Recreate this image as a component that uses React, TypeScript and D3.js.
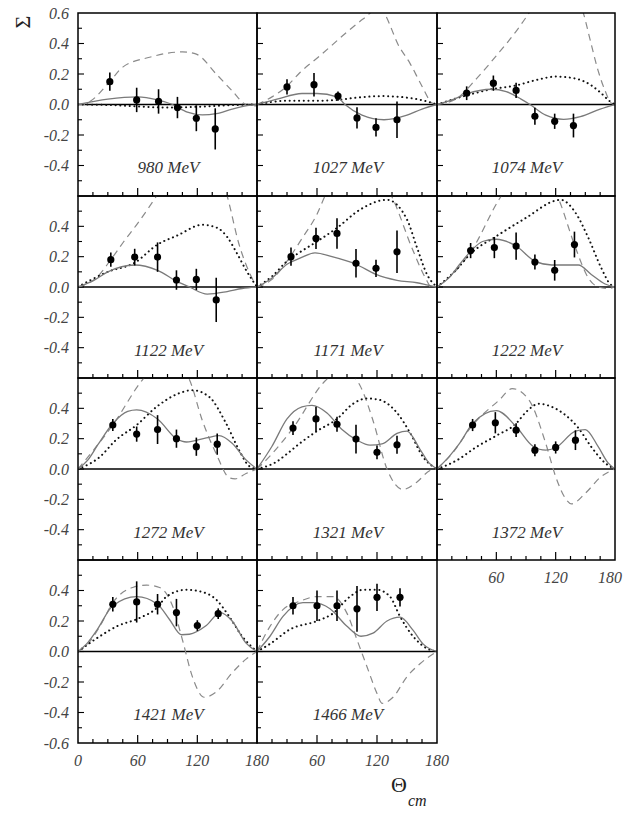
import React from "react";
import * as d3 from "d3";

// beam energies, one panel each (row by row, 3 per row)
const energies = ["980 MeV", "1027 MeV", "1074 MeV", "1122 MeV", "1171 MeV", "1222 MeV",
  "1272 MeV", "1321 MeV", "1372 MeV", "1421 MeV", "1466 MeV"];

// measured points: theta, sigma, error
const pointTheta = [
  [32, 59, 81, 100, 119, 138],
  [30, 57, 81, 100, 119, 140],
  [30, 57, 80, 99, 119, 138],
  [33, 57, 80, 99, 119, 139],
  [34, 59, 80, 99, 119, 140],
  [34, 58, 80, 99, 119, 139],
  [35, 59, 80, 99, 119, 140],
  [36, 59, 80, 99, 120, 140],
  [36, 59, 80, 99, 120, 140],
  [35, 59, 80, 99, 120, 141],
  [36, 60, 80, 100, 120, 143],
];
const pointSigma = [
  [0.15, 0.03, 0.02, -0.02, -0.09, -0.16],
  [0.115, 0.13, 0.055, -0.088, -0.15, -0.10],
  [0.074, 0.14, 0.092, -0.077, -0.11, -0.138],
  [0.18, 0.197, 0.197, 0.046, 0.05, -0.085],
  [0.2, 0.32, 0.353, 0.156, 0.123, 0.232],
  [0.24, 0.26, 0.27, 0.165, 0.11, 0.28],
  [0.29, 0.23, 0.26, 0.20, 0.147, 0.164],
  [0.27, 0.33, 0.295, 0.197, 0.11, 0.16],
  [0.29, 0.305, 0.256, 0.124, 0.142, 0.19],
  [0.31, 0.325, 0.31, 0.255, 0.17, 0.248],
  [0.30, 0.30, 0.30, 0.28, 0.355, 0.355],
];
const pointError = [
  [0.06, 0.08, 0.08, 0.07, 0.085, 0.135],
  [0.05, 0.077, 0.03, 0.07, 0.06, 0.12],
  [0.045, 0.05, 0.05, 0.055, 0.05, 0.078],
  [0.047, 0.055, 0.097, 0.064, 0.07, 0.146],
  [0.06, 0.07, 0.1, 0.094, 0.057, 0.14],
  [0.05, 0.07, 0.09, 0.05, 0.068, 0.085],
  [0.04, 0.05, 0.095, 0.06, 0.06, 0.07],
  [0.045, 0.08, 0.05, 0.095, 0.045, 0.06],
  [0.04, 0.07, 0.045, 0.04, 0.04, 0.065],
  [0.047, 0.135, 0.067, 0.09, 0.035, 0.035],
  [0.057, 0.1, 0.1, 0.15, 0.09, 0.06],
];

// model curves as [theta, sigma]
const solidCurves: [number, number][][] = [
  [[0, 0], [30, 0.035], [60, 0.05], [80, 0.03], [95, 0], [110, -0.05], [125, -0.068], [139, -0.06], [155, -0.03], [170, -0.008], [180, 0]],
  [[0, 0], [20, 0.035], [45, 0.072], [60, 0.072], [80, 0.05], [88, 0], [105, -0.07], [127, -0.1], [150, -0.07], [165, -0.03], [180, 0]],
  [[0, 0], [15, 0.03], [30, 0.07], [55, 0.1], [70, 0.085], [85, 0.035], [94, 0], [110, -0.07], [128, -0.097], [145, -0.08], [165, -0.03], [180, 0]],
  [[0, 0], [15, 0.04], [30, 0.1], [57, 0.145], [80, 0.11], [100, 0.035], [112, 0], [130, -0.047], [150, -0.03], [165, -0.01], [180, 0]],
  [[0, 0], [15, 0.06], [30, 0.15], [43, 0.19], [58, 0.225], [75, 0.2], [99, 0.15], [119, 0.083], [140, 0.044], [160, 0.028], [172, 0.01], [180, 0]],
  [[0, 0], [12, 0.06], [23, 0.15], [34, 0.235], [46, 0.3], [60, 0.315], [80, 0.27], [99, 0.17], [116, 0.145], [143, 0.145], [156, 0.083], [170, 0.02], [180, 0]],
  [[0, 0], [10, 0.06], [20, 0.16], [35, 0.3], [50, 0.38], [59, 0.39], [80, 0.33], [99, 0.2], [109, 0.178], [129, 0.205], [142, 0.22], [155, 0.17], [169, 0.06], [180, 0]],
  [[0, 0], [15, 0.15], [30, 0.33], [45, 0.41], [55, 0.42], [70, 0.37], [85, 0.26], [100, 0.19], [113, 0.157], [125, 0.165], [140, 0.235], [150, 0.25], [163, 0.13], [172, 0.04], [180, 0]],
  [[0, 0], [12, 0.08], [23, 0.17], [36, 0.3], [60, 0.385], [80, 0.28], [97, 0.15], [110, 0.124], [120, 0.14], [140, 0.25], [150, 0.26], [163, 0.147], [173, 0.04], [180, 0]],
  [[0, 0], [10, 0.06], [19, 0.14], [35, 0.3], [59, 0.36], [80, 0.31], [92, 0.21], [104, 0.11], [112, 0.113], [129, 0.17], [143, 0.255], [155, 0.2], [169, 0.055], [180, 0]],
  [[0, 0], [13, 0.1], [26, 0.23], [46, 0.32], [56, 0.32], [73, 0.28], [90, 0.165], [104, 0.1], [116, 0.12], [130, 0.2], [143, 0.225], [156, 0.14], [166, 0.05], [180, 0]],
];
const dottedCurves: [number, number][][] = [
  [[0, 0], [30, -0.003], [60, -0.012], [90, -0.02], [120, -0.015], [150, -0.005], [180, 0]],
  [[0, 0], [30, 0.025], [60, 0.025], [80, 0.03], [100, 0.045], [125, 0.055], [150, 0.045], [170, 0.02], [180, 0]],
  [[0, 0], [30, 0.06], [55, 0.1], [80, 0.125], [100, 0.16], [120, 0.183], [140, 0.17], [155, 0.13], [165, 0.08], [175, 0.02], [180, 0]],
  [[0, 0], [30, 0.1], [57, 0.16], [80, 0.28], [100, 0.34], [125, 0.41], [140, 0.39], [150, 0.33], [160, 0.22], [170, 0.1], [180, 0]],
  [[0, 0], [15, 0.07], [30, 0.17], [43, 0.23], [60, 0.3], [80, 0.39], [103, 0.51], [130, 0.575], [150, 0.445], [160, 0.26], [170, 0.083], [180, 0]],
  [[0, 0], [19, 0.11], [34, 0.22], [60, 0.335], [90, 0.456], [120, 0.57], [125, 0.575], [140, 0.49], [153, 0.325], [166, 0.127], [175, 0.02], [180, 0]],
  [[0, 0], [22, 0.08], [38, 0.19], [59, 0.29], [79, 0.41], [102, 0.5], [115, 0.52], [132, 0.475], [149, 0.3], [162, 0.124], [172, 0.02], [180, 0]],
  [[0, 0], [20, 0.05], [30, 0.1], [43, 0.17], [60, 0.25], [80, 0.33], [96, 0.43], [110, 0.465], [123, 0.455], [140, 0.37], [153, 0.24], [166, 0.08], [180, 0]],
  [[0, 0], [20, 0.057], [40, 0.146], [60, 0.22], [80, 0.3], [90, 0.375], [103, 0.43], [116, 0.41], [130, 0.355], [143, 0.27], [156, 0.146], [170, 0.04], [180, 0]],
  [[0, 0], [22, 0.1], [39, 0.165], [62, 0.22], [80, 0.29], [89, 0.36], [109, 0.405], [122, 0.395], [139, 0.34], [152, 0.23], [165, 0.1], [180, 0]],
  [[0, 0], [13, 0.05], [33, 0.145], [60, 0.2], [76, 0.25], [93, 0.36], [106, 0.405], [120, 0.405], [133, 0.36], [143, 0.23], [156, 0.1], [170, 0.02], [180, 0]],
];
const dashedCurves: [number, number][][] = [
  [[0, 0], [5, 0], [12, 0.02], [32, 0.15], [45, 0.245], [72, 0.31], [105, 0.345], [119, 0.33], [139, 0.2], [155, 0.09], [169, 0], [180, -0.01]],
  [[0, 0], [15, 0.05], [30, 0.12], [43, 0.21], [63, 0.32], [90, 0.475], [106, 0.56], [122, 0.63], [143, 0.37], [153, 0.27], [165, 0.12], [175, 0.01], [180, 0]],
  [[0, 0], [20, 0.04], [40, 0.17], [60, 0.32], [80, 0.48], [95, 0.62], [120, 0.9], [148, 0.6], [155, 0.42], [163, 0.22], [170, 0.09], [176, 0.01], [180, 0]],
  [[0, 0], [20, 0.07], [33, 0.18], [45, 0.29], [60, 0.42], [79, 0.6], [115, 1.0], [150, 0.6], [162, 0.28], [172, 0.1], [180, 0]],
  [[0, 0], [15, 0.05], [30, 0.17], [45, 0.32], [60, 0.48], [68, 0.6], [100, 0.9], [136, 0.58], [156, 0.24], [170, 0.04], [174, 0], [180, 0]],
  [[0, 0], [15, 0.08], [34, 0.23], [63, 0.58], [95, 0.85], [123, 0.58], [140, 0.26], [153, 0.06], [163, 0], [172, -0.01], [180, 0]],
  [[0, 0], [15, 0.12], [35, 0.29], [65, 0.59], [90, 0.75], [112, 0.59], [125, 0.32], [139, 0.1], [152, -0.057], [158, -0.065], [169, -0.03], [180, 0]],
  [[0, 0], [15, 0.1], [36, 0.27], [68, 0.58], [85, 0.66], [103, 0.55], [116, 0.32], [130, 0], [146, -0.135], [160, -0.085], [173, -0.01], [180, 0]],
  [[0, 0], [15, 0.1], [36, 0.29], [63, 0.455], [76, 0.53], [93, 0.455], [110, 0.168], [120, -0.05], [130, -0.195], [136, -0.23], [150, -0.16], [166, -0.05], [180, 0]],
  [[0, 0], [10, 0.05], [22, 0.165], [35, 0.32], [55, 0.42], [69, 0.435], [82, 0.42], [95, 0.3], [105, 0.077], [115, -0.165], [127, -0.3], [139, -0.265], [155, -0.14], [169, -0.05], [180, 0]],
  [[0, 0], [13, 0.165], [26, 0.275], [43, 0.33], [60, 0.36], [76, 0.36], [90, 0.25], [100, 0.077], [110, -0.1], [120, -0.275], [125, -0.34], [136, -0.3], [150, -0.165], [163, -0.08], [180, 0]],
];

const yTickLabels = ["0.6", "0.4", "0.2", "0.0", "-0.2", "-0.4", "-0.6"];
const xTickLabels = ["0", "60", "120", "180"];

const colEdges = [78, 257, 437, 615];
const rowEdges = [13, 196, 378, 560, 743];
const serif = "'Liberation Serif', 'DejaVu Serif', serif";

function Panel({ idx }: { idx: number }) {
  const row = Math.floor(idx / 3);
  const col = idx % 3;
  const x0 = colEdges[col], x1 = colEdges[col + 1];
  const y0 = rowEdges[row], y1 = rowEdges[row + 1];
  const x = d3.scaleLinear().domain([0, 180]).range([x0, x1]);
  const y = d3.scaleLinear().domain([-0.6, 0.6]).range([y1, y0]);
  const line = d3.line<[number, number]>()
    .x(d => x(d[0]))
    .y(d => y(d[1]))
    .curve(d3.curveMonotoneX);
  const clipId = "clip" + idx;
  const xTicks = d3.range(15, 180, 15);
  const yTicks = d3.range(-5, 6).map(v => v / 10);

  return (
    <g>
      <clipPath id={clipId}>
        <rect x={x0} y={y0} width={x1 - x0} height={y1 - y0} />
      </clipPath>
      {xTicks.map(t => (
        <line key={"xt" + t} x1={x(t)} x2={x(t)} y1={y1} y2={y1 - (t % 60 === 0 ? 8 : 4)} stroke="#000" strokeWidth={1.2} />
      ))}
      {yTicks.map(t => (
        <line key={"yt" + t} x1={x0} x2={x0 + (Math.round(t * 10) % 2 === 0 ? 6 : 4)} y1={y(t)} y2={y(t)} stroke="#000" strokeWidth={1.1} />
      ))}
      <line x1={x0} x2={x1} y1={y(0)} y2={y(0)} stroke="#000" strokeWidth={1.3} />
      <g clipPath={`url(#${clipId})`}>
        <path d={line(dashedCurves[idx]) || ""} fill="none" stroke="#8a8a8a" strokeWidth={1.2} strokeDasharray="7,5" />
        <path d={line(dottedCurves[idx]) || ""} fill="none" stroke="#111" strokeWidth={2} strokeDasharray="0.1,4.6" strokeLinecap="round" />
        <path d={line(solidCurves[idx]) || ""} fill="none" stroke="#7a7a7a" strokeWidth={1.3} />
      </g>
      {pointTheta[idx].map((t, i) => (
        <g key={"p" + i}>
          <line x1={x(t)} x2={x(t)} y1={y(pointSigma[idx][i] - pointError[idx][i])} y2={y(pointSigma[idx][i] + pointError[idx][i])} stroke="#000" strokeWidth={1.6} />
          <circle cx={x(t)} cy={y(pointSigma[idx][i])} r={3.6} fill="#000" />
        </g>
      ))}
      <rect x={x0} y={y0} width={x1 - x0} height={y1 - y0} fill="none" stroke="#000" strokeWidth={1.5} />
      <text x={(x0 + x1) / 2 + 1} y={y0 + 160} textAnchor="middle" fontFamily={serif} fontStyle="italic" fontSize={17} fill="#333">
        {energies[idx]}
      </text>
    </g>
  );
}

export default function App() {
  const yLabelScale = (row: number) => d3.scaleLinear().domain([-0.6, 0.6]).range([rowEdges[row + 1], rowEdges[row]]);
  const xLabelScale = (col: number) => d3.scaleLinear().domain([0, 180]).range([colEdges[col], colEdges[col + 1]]);
  return (
    <svg width={624} height={815} style={{ position: "absolute", left: 0, top: 0, display: "block" }}>
      <rect width={624} height={815} fill="#fff" />
      {energies.map((_, i) => <Panel key={i} idx={i} />)}
      {[0, 1, 2, 3].map(row =>
        yTickLabels.map((lab, j) => {
          const v = +lab;
          if (v === 0.6 && row !== 0) return null;
          if (v === -0.6 && row !== 3) return null;
          return (
            <text key={row + "-" + j} x={69} y={yLabelScale(row)(v)} dy="0.35em" textAnchor="end" fontFamily={serif} fontStyle="italic" fontSize={16} fill="#444">
              {lab}
            </text>
          );
        })
      )}
      {[0, 1].map(col =>
        xTickLabels.map(lab => (col === 1 && lab === "0") ? null : (
          <text key={"xl" + col + lab} x={xLabelScale(col)(+lab)} y={rowEdges[4] + 23} textAnchor="middle" fontFamily={serif} fontStyle="italic" fontSize={16} fill="#444">
            {lab}
          </text>
        ))
      )}
      {xTickLabels.slice(1).map(lab => (
        <text key={"xl2" + lab} x={Math.min(xLabelScale(2)(+lab), 610)} y={rowEdges[3] + 23} textAnchor="middle" fontFamily={serif} fontStyle="italic" fontSize={16} fill="#444">
          {lab}
        </text>
      ))}
      <text transform="translate(22,22) rotate(-90)" textAnchor="middle" dy="0.35em" fontFamily={serif} fontSize={22} fill="#222">Σ</text>
      <text x={399} y={792} textAnchor="middle" fontFamily={serif} fontSize={22} fill="#222">Θ</text>
      <text x={408} y={806} fontFamily={serif} fontStyle="italic" fontSize={16} fill="#222">cm</text>
    </svg>
  );
}
